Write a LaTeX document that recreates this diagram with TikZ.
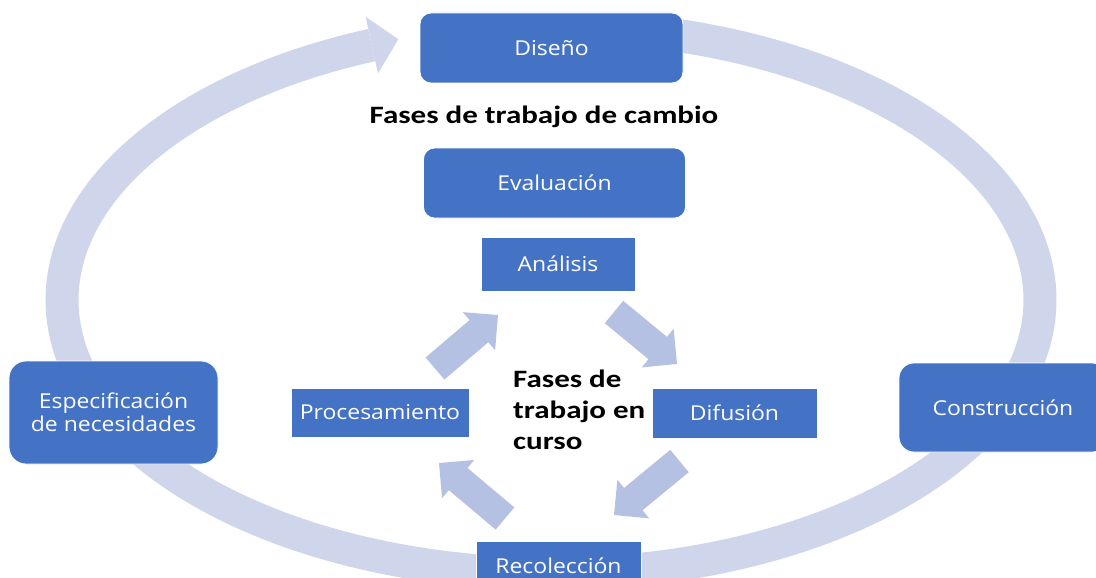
\documentclass[tikz,border=0pt]{standalone}
\usepackage{fontspec}
\setmainfont{Carlito}
\newfontfamily\boxfont[FakeStretch=1.12]{Open Sans}
\newfontfamily\headfont[FakeStretch=1.24]{Carlito}
\usetikzlibrary{calc}
\definecolor{boxblue}{HTML}{4472C4}
\definecolor{ringblue}{HTML}{CFD5EA}
\definecolor{arrowblue}{HTML}{B4C1E2}
\newcommand\blockarrow[2]{%
  \coordinate (hb) at ($(#2)!25pt!(#1)$);
  \fill[arrowblue] ($(#1)!14.5pt!90:(#2)$) -- ($(hb)!14.5pt!-90:(#1)$) -- ($(hb)!25pt!-90:(#1)$) -- (#2)
    -- ($(hb)!25pt!90:(#1)$) -- ($(hb)!14.5pt!90:(#1)$) -- ($(#1)!14.5pt!-90:(#2)$) -- cycle;}
\tikzset{
  roundbox/.style={rectangle, rounded corners=11pt, fill=boxblue, draw=white, line width=0.8pt,
    text=white, font=\boxfont\fontsize{20.5}{25}\selectfont, align=center, inner sep=0pt},
  squarebox/.style={roundbox, rounded corners=0pt},
  headtext/.style={font=\headfont\bfseries\fontsize{25}{31}\selectfont, inner sep=0pt, text=black}
}
\begin{document}
\begin{tikzpicture}[x=1pt,y=-1pt]
\useasboundingbox (0,0) rectangle (1096,578);
% outer cycle ring
\draw[ringblue, line width=33pt] plot[domain=111.5:440, samples=240] ({551+489*cos(\x)},{300-274*sin(\x)});
\coordinate (ringend) at ({551+489*cos(111.5)},{300-274*sin(111.5)});
\fill[ringblue] (ringend) ++(-6.2,-28.3) -- (398.4,39.2) -- ($(ringend)+(6.2,28.3)$) -- cycle;
% inner cycle arrows
\coordinate (a1t) at (435,368.5); \coordinate (a1h) at (498,315);
\coordinate (a2t) at (614,312);   \coordinate (a2h) at (677,364);
\coordinate (a3t) at (679.5,461); \coordinate (a3h) at (614,515);
\coordinate (a4t) at (505,518.5); \coordinate (a4h) at (439,463);
\blockarrow{a1t}{a1h}
\blockarrow{a2t}{a2h}
\blockarrow{a3t}{a3h}
\blockarrow{a4t}{a4h}
% boxes
\node[roundbox, minimum width=263pt, minimum height=70pt] (diseno) at (551.5,48) {Diseño};
\node[roundbox, minimum width=262pt, minimum height=70pt] (evaluacion) at (554.5,183) {Evaluación};
\node[squarebox, minimum width=154pt, minimum height=54pt] (analisis) at (558,264) {Análisis};
\node[squarebox, minimum width=178pt, minimum height=49pt] (procesamiento) at (380,412.5) {Procesamiento};
\node[squarebox, minimum width=165pt, minimum height=50pt] (difusion) at (734.5,413) {Difusión};
\node[squarebox, minimum width=165pt, minimum height=49pt] (recoleccion) at (558.5,565.5) {Recolección};
\node[roundbox, rounded corners=17pt, minimum width=209pt, minimum height=103pt] (especificacion) at (113.5,412.5) {Especificación\\[-2pt]de necesidades};
\node[roundbox, rounded corners=15pt, minimum width=208pt, minimum height=89pt] (construccion) at (1003,407.5) {Construcción};
% titles
\node[headtext, anchor=base] (titulo) at (544,124) {Fases de trabajo de cambio};
\node[headtext, anchor=north west, align=left] (curso) at (513,370) {Fases de\\trabajo en\\curso};
\end{tikzpicture}
\end{document}
